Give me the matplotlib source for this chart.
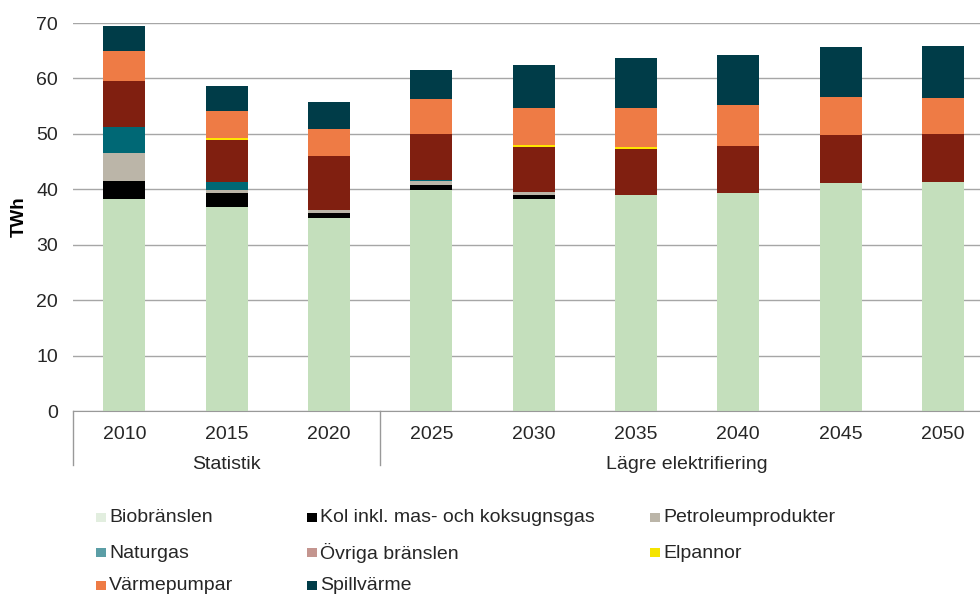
import numpy as np
import matplotlib
matplotlib.use('Agg')
import matplotlib.pyplot as plt
from matplotlib.patches import Rectangle
from matplotlib.transforms import blended_transform_factory

plt.rcParams['font.family'] = 'Liberation Sans'
plt.rcParams['font.size'] = 14
plt.rcParams['text.color'] = '#262626'
plt.rcParams['xtick.color'] = '#262626'
plt.rcParams['ytick.color'] = '#262626'

years = ['2010', '2015', '2020', '2025', '2030', '2035', '2040', '2045', '2050']
groups = [('Statistik', 0, 3), ('Lägre elektrifiering', 3, 9)]

# TWh per energy source
bio      = [38.2, 36.85, 34.8, 39.8, 38.3, 38.9, 39.3, 41.1, 41.4]
kol      = [3.3, 2.4, 0.9, 0.9, 0.6, 0.0, 0.0, 0.0, 0.0]
petrol   = [5.0, 0.7, 0.5, 0.8, 0.6, 0.1, 0.0, 0.0, 0.0]
naturgas = [4.7, 1.3, 0.15, 0.1, 0.0, 0.0, 0.0, 0.0, 0.0]
ovriga   = [8.3, 7.7, 9.6, 8.4, 8.2, 8.2, 8.5, 8.75, 8.5]
elpannor = [0.0, 0.3, 0.15, 0.0, 0.3, 0.4, 0.0, 0.0, 0.0]
varme    = [5.4, 4.8, 4.8, 6.3, 6.7, 7.0, 7.35, 6.75, 6.6]
spill    = [4.6, 4.5, 4.85, 5.3, 7.7, 9.1, 9.05, 9.1, 9.4]

series = [
    ('Biobränslen', bio, '#C4DFBC', '#E2EEDF'),
    ('Kol inkl. mas- och koksugnsgas', kol, '#000000', '#000000'),
    ('Petroleumprodukter', petrol, '#BBB5A8', '#BBB5A8'),
    ('Naturgas', naturgas, '#006875', '#5B9EA6'),
    ('Övriga bränslen', ovriga, '#801F10', '#C4958F'),
    ('Elpannor', elpannor, '#FFE600', '#F5E400'),
    ('Värmepumpar', varme, '#EE7B45', '#EE7B45'),
    ('Spillvärme', spill, '#003C48', '#003C48'),
]

fig = plt.figure(figsize=(9.8, 5.95), dpi=100)
ax = fig.add_axes([0.0748, 0.3092, 0.9395, 0.6521])

x = np.arange(len(years))
bottom = np.zeros(len(years))
for name, vals, col, _ in series:
    vals = np.array(vals)
    ax.bar(x, vals, 0.41, bottom=bottom, color=col, linewidth=0, zorder=2)
    bottom += vals

ax.set_ylim(0, 70)
ax.set_xlim(-0.5, len(years) - 0.5)
ax.set_yticks(range(0, 71, 10))
ax.yaxis.grid(True, color='#A6A6A6', linewidth=1.0, zorder=0)
ax.set_axisbelow(True)
for s in ['left', 'right', 'top']:
    ax.spines[s].set_visible(False)
ax.spines['bottom'].set_color('#999999')
ax.tick_params(axis='y', length=0, pad=11)
ax.tick_params(axis='x', length=0, pad=11)
ax.set_xticks(x)
ax.set_xticklabels(years)
ax.set_ylabel('TWh', fontweight='bold', fontsize=13.5, labelpad=6)

# group labels and separators under the category axis
tr = blended_transform_factory(ax.transData, ax.transAxes)
for label, i0, i1 in groups:
    ax.text((i0 + i1 - 1) / 2, -0.138, label, transform=tr, ha='center', va='center')
for xs in [-0.5, 2.5]:
    ax.plot([xs, xs], [0, -0.14], transform=tr, color='#999999', lw=1, clip_on=False)

# legend, three columns
col_x = [96, 307, 650]
row_y = [518, 553, 586]
W, H = 980.0, 595.0
for k, (name, _, _, lcol) in enumerate(series):
    cx = col_x[k % 3]
    cy = row_y[k // 3]
    fig.patches.append(Rectangle((cx / W, 1 - (cy + 4) / H), 10 / W, 9 / H,
                                 transform=fig.transFigure, facecolor=lcol, edgecolor='none'))
    fig.text((cx + 13) / W, 1 - cy / H, name, ha='left', va='center')

fig.savefig('out.png', dpi=100)
